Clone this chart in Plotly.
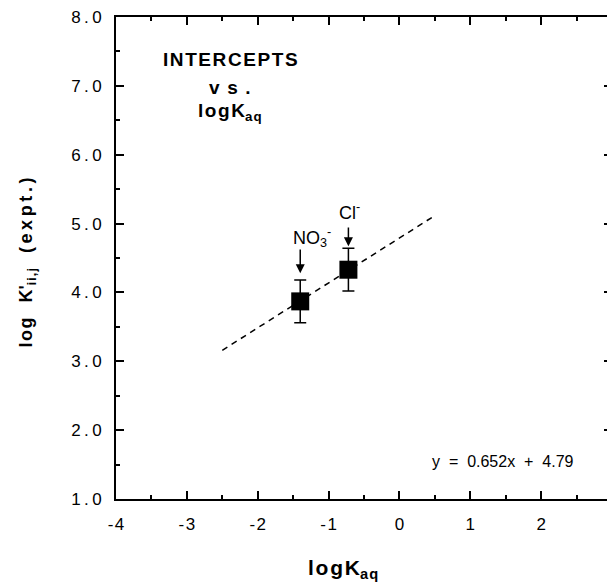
import plotly.graph_objects as go

# Data
ions = ["NO<sub>3</sub><sup>-</sup>", "Cl<sup>-</sup>"]
log_kaq = [-1.40, -0.72]
intercepts = [3.87, 4.33]
errors = [0.31, 0.31]

fit_x = [-2.5, 0.5]
slope = 0.652
offset = 4.79
fit_y = [slope * v + offset for v in fit_x]

x_ticks = [-4, -3, -2, -1, 0, 1, 2, 3]
y_ticks = [1.0, 2.0, 3.0, 4.0, 5.0, 6.0, 7.0, 8.0]

FONT = "Liberation Sans, Arial, Helvetica, sans-serif"
TS = "\u2009"   # thin space for letter tracking
HS = "\u200a"   # hair space


def track(s, sep):
    return sep.join(list(s))


fig = go.Figure()
fig.add_trace(go.Scatter(
    x=fit_x, y=fit_y, mode="lines",
    line=dict(color="black", width=1.5, dash="6px,5px"),
    hoverinfo="skip", showlegend=False))
fig.add_trace(go.Scatter(
    x=log_kaq, y=intercepts, mode="markers",
    marker=dict(symbol="square", size=18, color="black"),
    error_y=dict(type="data", array=errors, color="black", thickness=1.5, width=6),
    showlegend=False))

axis_common = dict(
    showline=True, linecolor="black", linewidth=2, mirror="ticks",
    ticks="inside", ticklen=8, tickwidth=1.5, tickcolor="black",
    showgrid=False, zeroline=False, automargin=False,
    ticklabeloverflow="allow",
    tickfont=dict(family=FONT, size=17, color="black"),
)
fig.update_xaxes(range=[-4, 3], tickvals=x_ticks,
                 ticktext=[track(str(v), HS) for v in x_ticks],
                 ticklabelstandoff=9,
                 minor=dict(ticks="inside", ticklen=4, dtick=0.5, tickcolor="black", tickwidth=1.5),
                 **axis_common)
fig.update_yaxes(range=[1, 8], tickvals=y_ticks,
                 ticktext=[track(f"{v:.1f}", TS) for v in y_ticks],
                 ticklabelstandoff=9,
                 minor=dict(ticks="inside", ticklen=4, dtick=0.5, tickcolor="black", tickwidth=1.5),
                 **axis_common)

ann = []
title_font = dict(family=FONT, size=19, color="black")
ann.append(dict(x=-2.39, y=7.38, text="<b>" + track("INTERCEPTS", HS) + "</b>",
                showarrow=False, font=title_font))
ann.append(dict(x=-2.39, y=6.98, text="<b>v" + TS + TS + "s" + TS + TS + ".</b>",
                showarrow=False, font=title_font))
ann.append(dict(x=-2.39, y=6.62, text="<b>" + track("logK", HS) + "<sub>a" + HS + "q</sub></b>",
                showarrow=False, font=title_font))
# Equation
ann.append(dict(x=1.455, y=1.54, text="y&nbsp;&nbsp;=&nbsp;&nbsp;0.652x&nbsp;&nbsp;+&nbsp;&nbsp;4.79",
                showarrow=False, font=dict(family=FONT, size=16, color="black")))
# Ion labels with arrows
label_x = [-1.234, -0.698]
label_y = [4.80, 5.17]
tip_y = [4.28, 4.67]
tail_y = [4.645, 4.965]
for xi, lab, lx, ly, ty, ay in zip(log_kaq, ions, label_x, label_y, tip_y, tail_y):
    ann.append(dict(x=lx, y=ly, text=lab, showarrow=False,
                    font=dict(family=FONT, size=18, color="black")))
    ann.append(dict(x=xi, y=ty, ax=xi, ay=ay, axref="x", ayref="y",
                    text="", showarrow=True, arrowhead=2, arrowsize=1.2,
                    arrowwidth=1.5, arrowcolor="black"))
# Axis titles
ann.append(dict(xref="paper", yref="paper", x=0.457, y=-0.145,
                xanchor="center", yanchor="middle",
                text="<b>" + track("logK", HS) + "<sub>a" + HS + "q</sub></b>", showarrow=False,
                font=dict(family=FONT, size=21, color="black")))
ann.append(dict(xref="paper", yref="paper", x=-0.178, y=0.49, textangle=-90,
                xanchor="center", yanchor="middle",
                text="<b>" + track("log", HS) + "&nbsp;&nbsp;&nbsp;K'<sub>" + track("ii,j", HS)
                     + "</sub>&nbsp;&nbsp;&nbsp;" + track("(expt.)", TS) + "</b>",
                showarrow=False,
                font=dict(family=FONT, size=18, color="black")))

# The page body has an 8px default margin, so the figure is sized to fit inside the window
fig.update_layout(
    width=607, height=574,
    margin=dict(l=108, r=3, t=9, b=83),
    paper_bgcolor="white", plot_bgcolor="white",
    annotations=ann, showlegend=False,
)
fig.write_html("out.html")
